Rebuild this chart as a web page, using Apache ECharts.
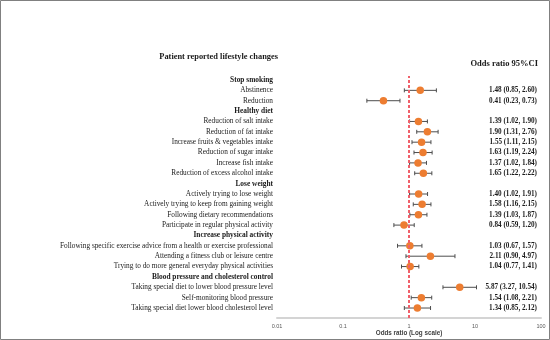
<!DOCTYPE html>
<html>
<head>
<meta charset="utf-8">
<script src="https://cdn.jsdelivr.net/npm/echarts@6/dist/echarts.min.js"></script>
<style>html,body{margin:0;padding:0;background:#fff}#c{width:550px;height:340px}</style>
</head>
<body>
<div id="c"></div>
<script>
const categories = ['Stop smoking','Abstinence','Reduction','Healthy diet','Reduction of salt intake','Reduction of fat intake','Increase fruits & vegetables intake','Reduction of sugar intake','Increase fish intake','Reduction of excess alcohol intake','Lose weight','Actively trying to lose weight','Actively trying to keep from gaining weight','Following dietary recommendations','Participate in regular physical activity','Increase physical activity','Following specific exercise advice from a health or exercise professional','Attending a fitness club or leisure centre','Trying to do more general everyday physical activities','Blood pressure and cholesterol control','Taking special diet to lower blood pressure level','Self-monitoring blood pressure','Taking special diet lower blood cholesterol level'];
const isHeader = [1,0,0,1,0,0,0,0,0,0,1,0,0,0,0,1,0,0,0,1,0,0,0];
const oddsRatio = [null,1.48,0.41,null,1.39,1.90,1.55,1.63,1.37,1.65,null,1.40,1.58,1.39,0.84,null,1.03,2.11,1.04,null,5.87,1.54,1.34];
const ciLower = [null,0.85,0.23,null,1.02,1.31,1.11,1.19,1.02,1.22,null,1.02,1.16,1.03,0.59,null,0.67,0.90,0.77,null,3.27,1.08,0.85];
const ciUpper = [null,2.60,0.73,null,1.90,2.76,2.15,2.24,1.84,2.22,null,1.91,2.15,1.87,1.20,null,1.57,4.97,1.41,null,10.54,2.21,2.12];
const xTicks = [0.01, 0.1, 1, 10, 100];
const refValue = 1;

const SERIF = '"Liberation Serif","Times New Roman",serif';
const SANS = '"Liberation Sans",Arial,sans-serif';

const pointData = [];
const barData = [];
categories.forEach((c, i) => {
  if (oddsRatio[i] != null) {
    pointData.push([oddsRatio[i], i]);
    barData.push([ciLower[i], ciUpper[i], i]);
  }
});

const chart = echarts.init(document.getElementById('c'));
chart.setOption({
  animation: false,
  backgroundColor: '#fff',
  title: [
    {text: 'Patient reported lifestyle changes', right: 272, top: 53, padding: 0,
     textStyle: {fontFamily: SERIF, fontSize: 8.4, fontWeight: 'bold', color: '#1a1a1a'}},
    {text: 'Odds ratio 95%CI', right: 12, top: 59, padding: 0,
     textStyle: {fontFamily: SERIF, fontSize: 8.5, fontWeight: 'bold', color: '#1a1a1a'}}
  ],
  graphic: [{type: 'rect', shape: {x: 0.5, y: 0.5, width: 549, height: 339},
    style: {fill: 'none', stroke: '#808080', lineWidth: 1}, silent: true}],
  grid: [
    {left: 277, right: 9, top: 74.8, height: 238.4, outerBoundsMode: 'none', containLabel: false},
    {left: 277, right: 9, top: 76, height: 242, outerBoundsMode: 'none', containLabel: false}
  ],
  xAxis: [
    {
      gridIndex: 0, type: 'log', logBase: 10, min: xTicks[0], max: xTicks[xTicks.length - 1],
      show: false
    },
    {
      gridIndex: 1, type: 'log', logBase: 10, min: xTicks[0], max: xTicks[xTicks.length - 1],
      axisLine: {show: true, lineStyle: {color: '#d4d4d4', width: 2}},
      axisTick: {show: false},
      splitLine: {show: false},
      axisLabel: {fontFamily: SANS, fontSize: 5.5, color: '#595959', margin: 5},
      name: 'Odds ratio (Log scale)', nameLocation: 'middle', nameGap: 12,
      nameMoveOverlap: false,
      nameTextStyle: {fontFamily: SANS, fontSize: 6.3, fontWeight: 'bold', color: '#404040'}
    }
  ],
  yAxis: [
    {
      gridIndex: 0, type: 'category', data: categories, inverse: true,
      axisLine: {show: false}, axisTick: {show: false}, splitLine: {show: false},
      axisLabel: {
        interval: 0, margin: 4,
        formatter: (v, i) => isHeader[i] ? '{h|' + v + '}' : '{n|' + v + '}',
        rich: {
          h: {fontFamily: SERIF, fontSize: 7.4, fontWeight: 'bold', color: '#1a1a1a'},
          n: {fontFamily: SERIF, fontSize: 7.3, color: '#1a1a1a'}
        }
      }
    },
    {
      gridIndex: 0, type: 'category', data: categories, inverse: true, position: 'right',
      axisLine: {show: false}, axisTick: {show: false}, splitLine: {show: false},
      axisLabel: {
        interval: 0, inside: true, margin: 4,
        fontFamily: SERIF, fontSize: 7.2, fontWeight: 'bold', color: '#1a1a1a',
        formatter: (v, i) => oddsRatio[i] == null ? '' :
          oddsRatio[i].toFixed(2) + ' (' + ciLower[i].toFixed(2) + ', ' + ciUpper[i].toFixed(2) + ')'
      }
    },
    {
      gridIndex: 1, type: 'value', min: 0, max: 1, show: false
    }
  ],
  series: [
    {
      type: 'scatter',
      xAxisIndex: 1, yAxisIndex: 2,
      data: [],
      z: 1,
      markLine: {
        silent: true, symbol: 'none', label: {show: false},
        lineStyle: {color: '#f0606a', type: [3, 2], width: 2},
        data: [{xAxis: refValue}]
      }
    },
    {
      type: 'custom',
      xAxisIndex: 0, yAxisIndex: 0,
      data: barData,
      encode: {x: [0, 1], y: 2},
      z: 2,
      renderItem: (params, api) => {
        const y = api.coord([1, api.value(2)])[1];
        const x0 = api.coord([api.value(0), api.value(2)])[0];
        const x1 = api.coord([api.value(1), api.value(2)])[0];
        const st = {stroke: '#4d4d4d', lineWidth: 1};
        const h = 2;
        return {type: 'group', children: [
          {type: 'line', shape: {x1: x0, y1: y, x2: x1, y2: y}, style: st},
          {type: 'line', shape: {x1: x0, y1: y - h, x2: x0, y2: y + h}, style: st},
          {type: 'line', shape: {x1: x1, y1: y - h, x2: x1, y2: y + h}, style: st}
        ]};
      }
    },
    {
      type: 'scatter',
      xAxisIndex: 0, yAxisIndex: 0,
      data: pointData,
      symbolSize: 7.5,
      z: 3,
      itemStyle: {color: '#ed7d31', opacity: 1}
    }
  ]
});
</script>
</body>
</html>
